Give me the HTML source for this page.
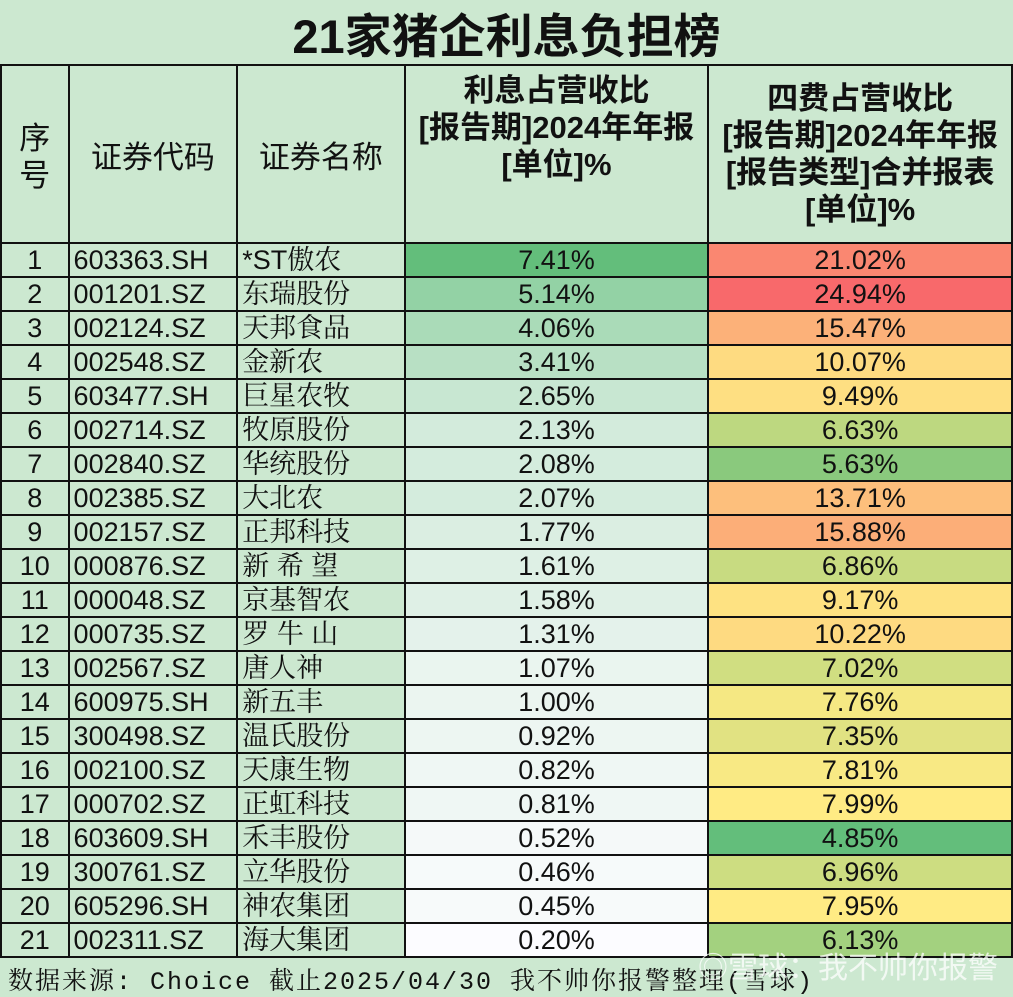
<!DOCTYPE html>
<html><head><meta charset="utf-8">
<style>
body{margin:0;width:1013px;height:995px;background:#cce8d0;overflow:hidden;font-family:"Liberation Sans","Noto Sans CJK SC",sans-serif;position:relative}
#title{position:absolute;left:0;top:0;width:1013px;height:64px;text-align:center;font-size:47px;font-weight:bold;line-height:74px;color:#111}
table{position:absolute;left:0;top:64px;border-collapse:collapse;table-layout:fixed}
td{border:2px solid #111;padding:0;color:#111;overflow:hidden;white-space:nowrap}
.h{height:174px;font-size:31px;text-align:center;line-height:37px;font-family:"Noto Sans CJK SC",sans-serif}
.hb{font-weight:bold;font-family:"Liberation Sans","Noto Sans CJK SC",sans-serif}
.r td{height:32px;font-size:27px;line-height:32px}
.c0{text-align:center}
.c1{padding-left:4px}
.c2{padding-left:4px;font-family:"Liberation Sans","Noto Serif CJK SC",serif}
.c3,.c4{text-align:center}
#foot{position:absolute;left:8px;top:961px;font-size:25px;letter-spacing:2px;font-family:"Liberation Mono","Noto Serif CJK SC",monospace;color:#111}
#wm{position:absolute;left:698px;top:943px;font-size:30px;color:rgba(255,255,255,0.75);font-family:"Noto Sans CJK SC",sans-serif}
</style></head><body>
<div id="title">21家猪企利息负担榜</div>
<table>
<colgroup><col style="width:68px"><col style="width:169px"><col style="width:168px"><col style="width:304px"><col style="width:304px"></colgroup>
<tbody id="tb">
<tr style="height:178px">
<td class="h" style="height:174px">序<br>号</td>
<td class="h">证券代码</td>
<td class="h">证券名称</td>
<td class="h hb" style="vertical-align:top;padding-top:6px;height:168px">利息占营收比<br>[报告期]2024年年报<br>[单位]%</td>
<td class="h hb">四费占营收比<br>[报告期]2024年年报<br>[报告类型]合并报表<br>[单位]%</td>
</tr>
</tbody></table>
<div id="foot">数据来源: Choice  截止2025/04/30  我不帅你报警整理(雪球)</div>
<div id="wm">◎雪球：我不帅你报警</div>
<script>
const codes=["603363.SH","001201.SZ","002124.SZ","002548.SZ","603477.SH","002714.SZ","002840.SZ","002385.SZ","002157.SZ","000876.SZ","000048.SZ","000735.SZ","002567.SZ","600975.SH","300498.SZ","002100.SZ","000702.SZ","603609.SH","300761.SZ","605296.SH","002311.SZ"];
const names=["*ST傲农","东瑞股份","天邦食品","金新农","巨星农牧","牧原股份","华统股份","大北农","正邦科技","新 希 望","京基智农","罗 牛 山","唐人神","新五丰","温氏股份","天康生物","正虹科技","禾丰股份","立华股份","神农集团","海大集团"];
const interest=[7.41,5.14,4.06,3.41,2.65,2.13,2.08,2.07,1.77,1.61,1.58,1.31,1.07,1.00,0.92,0.82,0.81,0.52,0.46,0.45,0.20];
const fees=[21.02,24.94,15.47,10.07,9.49,6.63,5.63,13.71,15.88,6.86,9.17,10.22,7.02,7.76,7.35,7.81,7.99,4.85,6.96,7.95,6.13];
function mix(a,b,t){return 'rgb('+a.map((v,i)=>Math.round(v+(b[i]-v)*t)).join(',')+')';}
const G=[99,190,123],W=[252,252,255],Y=[255,235,132],R=[248,105,107];
const iMin=Math.min(...interest),iMax=Math.max(...interest);
const sf=[...fees].sort((a,b)=>a-b),fMin=sf[0],fMax=sf[sf.length-1],fMid=sf[Math.floor(sf.length/2)];
function feeColor(v){return v<=fMid?mix(G,Y,(v-fMin)/(fMid-fMin)):mix(Y,R,(v-fMid)/(fMax-fMid));}
const tb=document.getElementById('tb');
codes.forEach((c,i)=>{
 const tr=document.createElement('tr');tr.className='r';
 
 
 const vals=[i+1,c,names[i],interest[i].toFixed(2)+'%',fees[i].toFixed(2)+'%'];
 const nm=['row-index','stock-code','stock-name','interest-ratio','fee-ratio'];
 vals.forEach((v,j)=>{
  const td=document.createElement('td');td.className='c'+j;td.textContent=v;
  
  
  if(j===3)td.style.background=mix(W,G,(interest[i]-iMin)/(iMax-iMin));
  if(j===4)td.style.background=feeColor(fees[i]);
  tr.appendChild(td);
 });
 tb.appendChild(tr);
});
</script>
</body></html>
